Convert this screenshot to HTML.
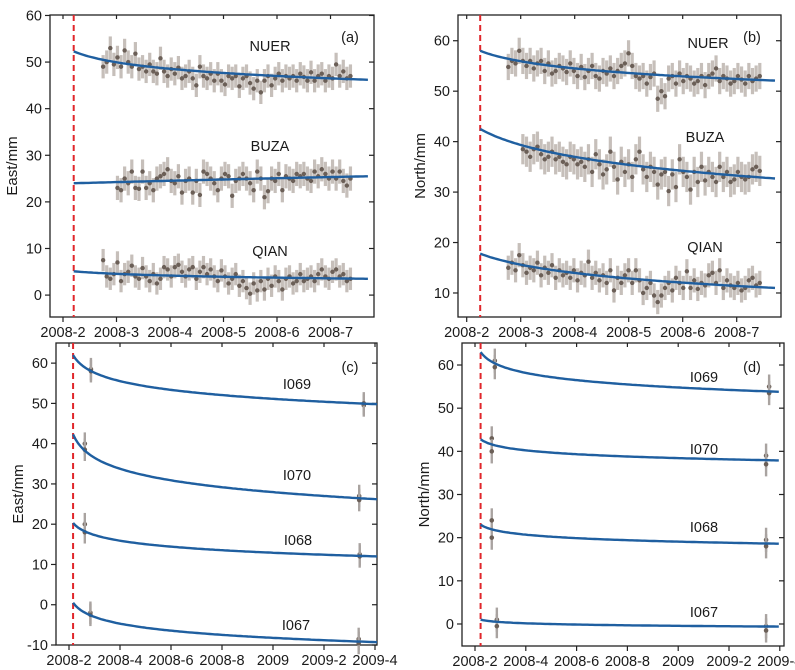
<!DOCTYPE html>
<html><head><meta charset="utf-8"><style>
html,body{margin:0;padding:0;background:#fff;}
svg{display:block;font-family:"Liberation Sans",Arial,sans-serif;}
</style></head><body>
<svg id="chart" width="795" height="670" viewBox="0 0 795 670" xmlns="http://www.w3.org/2000/svg"></svg>
<script>
// ---------- data ----------
const monthTicksAB = ["2008-2","2008-3","2008-4","2008-5","2008-6","2008-7"];
const tickLabelsCD = ["2008-2","2008-4","2008-6","2008-8","2009","2009-2","2009-4"];
const yTicksA = [0,10,20,30,40,50,60];
const yTicksB = [10,20,30,40,50,60];
const yTicksC = [-10,0,10,20,30,40,50,60];
const yTicksD = [0,10,20,30,40,50,60];
const stationsAB = ["NUER","BUZA","QIAN"];
const stationsCD = ["I069","I070","I068","I067"];

const nuerEast = [49,50,53,49.5,51,49,52.5,50,49,51.8,48.5,49,48,49.5,48,47.5,50.8,48,47,48.5,47.5,48.8,46.5,47,48,46.5,45,49,47,46.5,47.5,46,47.5,46,45.2,47,46.5,47,44.8,46.5,47,45.5,44.3,46,43.5,46,47,45,46.5,47.5,46,47,46.5,47,46,47.5,46.8,46,47.8,46,47,47.5,46,47,46.5,49.5,47,48,46.5,47];
const buzaEast = [null,null,null,null,23,22.5,25,24,26.5,23,22.8,26.5,23,24,22.5,25,25.5,26,27,24.5,24,25.5,22,24.5,25,22,24.5,21.5,26.5,26,25,24,22.5,25,26,25.5,21.3,24.5,25,26,25,24,22.5,26.5,25,21,22.3,25,24.5,26,22.5,25.5,25,24.5,26,25.5,26,25,24.5,26.5,25.5,27,26,25,26.5,25,26.5,24.5,23.5,25];
const qianEast = [7.5,4,3.5,4.5,7,3,4.5,5,6.3,4,3.5,5.8,4,3,4.5,2.5,3.5,6,5.5,4,6,6.5,5,4,5.5,6,3.5,5,6,4.5,5.5,4,3,5.3,4,2.5,3.5,4.5,2,3,1.5,0.3,2.5,1,3,1.2,3.5,2,4,3,1.2,3.5,4,2.5,3,4.5,3,3.5,4,3,4.5,5.5,4,3.5,5,5.5,4,4.5,3,3.5];
const nuerNorth = [54.8,56,55.5,58,56,55,56,54.5,55.5,56,54,55.5,53.5,54,55,54.5,53.8,55.5,54,53,54.8,52.8,54,55,53,52.5,54,53.5,54.5,53,54,55,55.5,57.5,55,53,52.5,53,51.5,52.8,53.5,48.5,50,49,52.5,53,51.5,53.5,52,53,52.5,51.5,52,53,51.2,53,53.5,54.5,52,53,52.5,51.5,52,53,52.3,51.5,53,52,52.5,53];
const buzaNorth = [null,null,null,null,38.5,38,37,38.5,39,37.5,36.5,37,38,36.5,37,36,35.5,37,36.5,35.5,36,35,36.5,34,37.5,35.5,33.5,34.5,38,35,32.5,36,34,35.5,33,36.5,38,34.5,33,35,34,31.5,33.5,34,30.2,33.5,31,36.5,34,33,30.5,34,32,35,32.3,34,33,32,35,33,34,32,32.5,34,33,32.5,33,34.5,35,34.2];
const qianNorth = [15,16,14.5,17.5,15.5,14,15,14.5,16,13.5,15,14,15.5,13,14.5,13.5,14,13,14.5,12.5,14,13.5,16.2,13,14,12.5,13.5,12,14.5,10.5,13,12,13.5,14.5,12,14.5,12.5,10,11,12,9.5,8.2,9.5,11,12,10.5,13,12,11,14.3,11,12.5,10.8,12,11.5,13.5,14,12,14.5,11,12.5,11.5,11,12,10.5,11,12.5,13,11.5,12];
const errEast = [2.5,2.6,2.4];
const errNorth = [2.6,3.0,2.4];

const curveStartA = [52.3,24.0,5.1];
const curveEndA   = [46.2,25.5,3.5];
const curveStartB = [58.0,42.5,17.8];
const curveEndB   = [52.1,32.7,11.0];
const curveStartC = [62.0,42.3,20.3,0.5];
const curveEndC   = [49.8,26.2,12.0,-9.3];
const curveStartD = [63.0,42.8,23.0,1.0];
const curveEndD   = [53.8,37.9,18.6,-0.6];

const campTimeC = [[0.43,0.43,5.78,5.78],[0.31,0.31,5.69,5.69],[0.31,0.31,5.7,5.7],[0.42,0.42,5.68,5.68]];
const campValC  = [[58.5,58,49.5,50],[40,38.5,27,26],[20,18,12.5,12],[-2,-2.5,-8.5,-9.5]];
const campTimeD = [[0.39,0.39,5.79,5.79],[0.33,0.33,5.73,5.73],[0.33,0.33,5.73,5.73],[0.43,0.43,5.73,5.73]];
const campValD  = [[61,59.5,55,53.5],[43,40,39,37],[24,20,19.5,18],[1,-0.5,-0.5,-1.5]];

// ---------- drawing ----------
const svg = document.getElementById('chart');
const NS = "http://www.w3.org/2000/svg";
function mk(tag, attrs, parent){
  const e = document.createElementNS(NS, tag);
  for (const k in attrs) e.setAttribute(k, attrs[k]);
  (parent||svg).appendChild(e);
  return e;
}
function txt(s, x, y, size, anchor, parent, name){
  const t = mk('text', {x:x, y:y, 'font-size':size, 'text-anchor':anchor||'middle', fill:'#1a1a1a'}, parent);
  t.textContent = s;
  
  
  return t;
}

function panel(cfg){
  const g = mk('g', {});
  
  
  const X = v => cfg.ox + v * cfg.k;
  const Y = v => cfg.y1 - (v - cfg.r0) / (cfg.r1 - cfg.r0) * (cfg.y1 - cfg.y0);
  const fr = mk('rect', {x:cfg.x0, y:cfg.y0, width:cfg.x1-cfg.x0, height:cfg.y1-cfg.y0, fill:'none', stroke:'#222', 'stroke-width':1.3}, g);
  
  
  cfg.yTicks.forEach(v => {
    const y = Y(v);
    mk('line', {x1:cfg.x0-5, x2:cfg.x0, y1:y, y2:y, stroke:'#222', 'stroke-width':1.2}, g);
    mk('line', {x1:cfg.x1-5, x2:cfg.x1, y1:y, y2:y, stroke:'#222', 'stroke-width':1.2}, g);
    txt(String(v), cfg.x0-8, y+5, 14.5, 'end', g, 'y-tick-label');
  });
  cfg.xLabels.forEach((s, i) => {
    const x = X(i);
    mk('line', {x1:x, x2:x, y1:cfg.y1, y2:cfg.y1+5, stroke:'#222', 'stroke-width':1.2}, g);
    mk('line', {x1:x, x2:x, y1:cfg.y0, y2:cfg.y0+4, stroke:'#222', 'stroke-width':1.2}, g);
    txt(s, x, cfg.y1+20, 14.5, 'middle', g, 'x-tick-label');
  });
  const yt = txt(cfg.yTitle, 0, 0, 15, 'middle', g, 'y-axis-title');
  yt.setAttribute('transform', `translate(${cfg.x0-33},${(cfg.y0+cfg.y1)/2}) rotate(-90)`);
  const dl = mk('line', {x1:X(cfg.tEvent), x2:X(cfg.tEvent), y1:cfg.y0, y2:cfg.y1, stroke:'#e0262b', 'stroke-width':2, 'stroke-dasharray':'6,4'}, g);
  
  
  (cfg.series||[]).forEach((vals, si) => {
    const sg = mk('g', {}, g);
    
    
    vals.forEach((v, i) => {
      if (v === null) return;
      const t = cfg.tStart + i * cfg.tStep;
      const e = cfg.errs[si];
      const bar = mk('line', {x1:X(t), x2:X(t), y1:Y(v-e), y2:Y(v+e), stroke:'#c6bfba', 'stroke-width':3.2}, sg);
      
      
    });
    vals.forEach((v, i) => {
      if (v === null) return;
      const t = cfg.tStart + i * cfg.tStep;
      const d = mk('circle', {cx:X(t), cy:Y(v), r:2.2, fill:'#6b5f57'}, sg);
      
      
    });
  });
  (cfg.campT||[]).forEach((ts, si) => {
    ts.forEach((t, i) => {
      const v = cfg.campV[si][i];
      const bar = mk('line', {x1:X(t), x2:X(t), y1:Y(v-2.8), y2:Y(v+2.8), stroke:'#a9a3a0', 'stroke-width':2.4}, g);
      
      
      const d = mk('circle', {cx:X(t), cy:Y(v), r:2.3, fill:'#6b5f57'}, g);
      
      
    });
  });
  cfg.cStart.forEach((s, si) => {
    const e = cfg.cEnd[si], tau = cfg.taus[si];
    const T = cfg.tEnd - cfg.tEvent;
    let d = '';
    for (let k = 0; k <= 120; k++) {
      const t = T * k / 120;
      const f = Math.log(1 + t/tau) / Math.log(1 + T/tau);
      const v = s + (e - s) * f;
      d += (k ? 'L' : 'M') + X(cfg.tEvent + t).toFixed(1) + ',' + Y(v).toFixed(1);
    }
    const p = mk('path', {d:d, fill:'none', stroke:'#1f5fa0', 'stroke-width':2.4}, g);
    
    
  });
  cfg.labels.forEach((s, i) => txt(s, cfg.labelPos[i][0], cfg.labelPos[i][1], 14.5, 'middle', g, 'station-label'));
  txt(cfg.tag, cfg.tagPos[0], cfg.tagPos[1], 14.5, 'middle', g, 'panel-tag');
}

panel({name:'panel-a-east', x0:50, x1:374, y0:15, y1:317, ox:63, k:53.5, r0:-4.7, r1:60.1,
  xLabels:monthTicksAB, yTicks:yTicksA, yTitle:'East/mm', tEvent:0.2, tEnd:5.7,
  series:[nuerEast,buzaEast,qianEast], errs:errEast, tStart:0.75, tStep:0.067,
  cStart:curveStartA, cEnd:curveEndA, taus:[0.5,20,0.8], labels:stationsAB,
  labelPos:[[270,51],[270,151],[270,256]], tag:'(a)', tagPos:[350,42]});

panel({name:'panel-b-north', x0:458, x1:781, y0:15, y1:317, ox:466.7, k:54, r0:5.24, r1:65.1,
  xLabels:monthTicksAB, yTicks:yTicksB, yTitle:'North/mm', tEvent:0.25, tEnd:5.71,
  series:[nuerNorth,buzaNorth,qianNorth], errs:errNorth, tStart:0.77, tStep:0.0675,
  cStart:curveStartB, cEnd:curveEndB, taus:[0.6,0.8,0.8], labels:stationsAB,
  labelPos:[[708,48],[705,142],[705,252]], tag:'(b)', tagPos:[752,42]});

panel({name:'panel-c-east', x0:56, x1:377, y0:343, y1:645, ox:69, k:51, r0:-10, r1:65,
  xLabels:tickLabelsCD, yTicks:yTicksC, yTitle:'East/mm', tEvent:0.08, tEnd:6.04,
  campT:campTimeC, campV:campValC,
  cStart:curveStartC, cEnd:curveEndC, taus:[0.15,0.15,0.15,0.15], labels:stationsCD,
  labelPos:[[297,389],[297,480],[298,545],[296,630]], tag:'(c)', tagPos:[350,372]});

panel({name:'panel-d-north', x0:462, x1:784, y0:343, y1:646, ox:475, k:50.8, r0:-5.1, r1:65.1,
  xLabels:tickLabelsCD, yTicks:yTicksD, yTitle:'North/mm', tEvent:0.11, tEnd:5.98,
  campT:campTimeD, campV:campValD,
  cStart:curveStartD, cEnd:curveEndD, taus:[0.15,0.15,0.15,0.15], labels:stationsCD,
  labelPos:[[704,382],[704,454],[704,532],[704,617]], tag:'(d)', tagPos:[752,372]});
</script>
</body></html>
